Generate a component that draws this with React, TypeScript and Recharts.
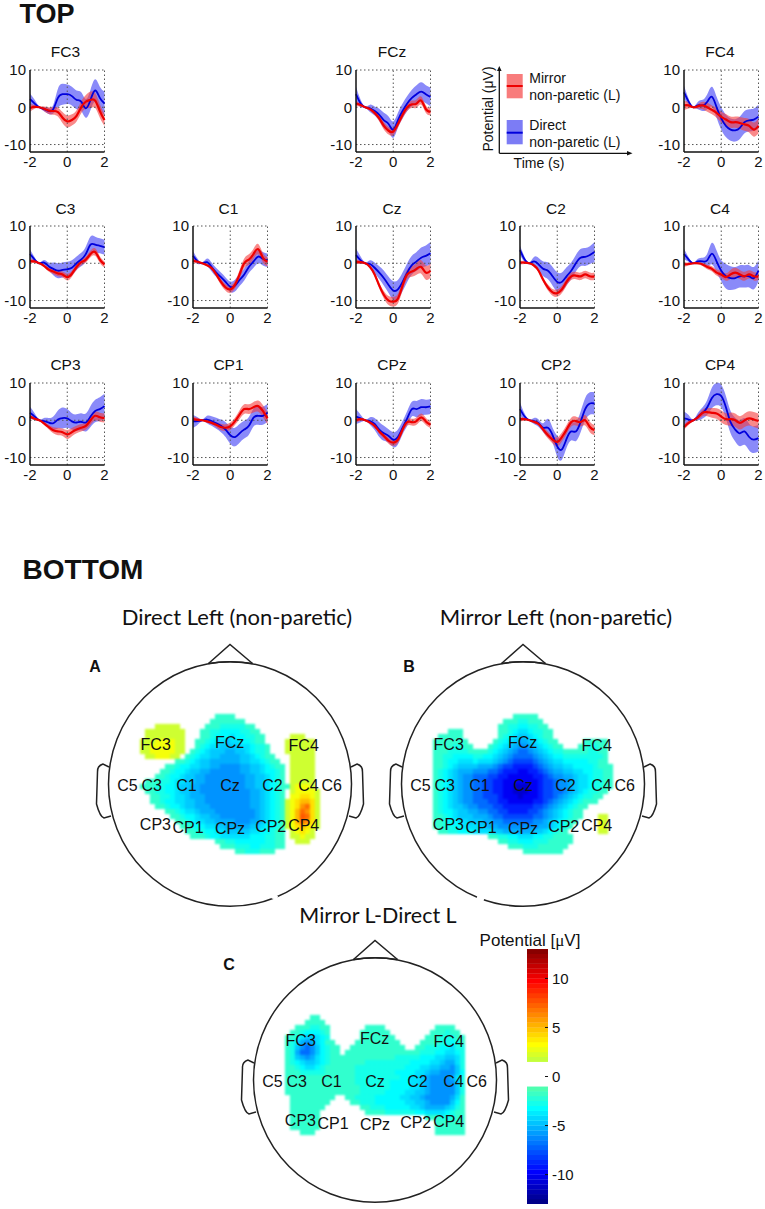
import { Area, ComposedChart, Line, ReferenceLine, Scatter, ScatterChart, XAxis, YAxis } from "recharts";

const SANS = "'Liberation Sans', Arial, sans-serif";
const HUMANIST = "Lato, 'Open Sans', sans-serif";

// seconds around movement onset
const times = [-2, -1.75, -1.5, -1.25, -1, -0.75, -0.5, -0.25, 0, 0.25, 0.5, 0.75, 1, 1.25, 1.5, 1.75, 2];

const fc3Direct = [2.2, 1, 0, -0.5, -1, -0.5, 2.5, 3.5, 3.5, 3, 2, 1.5, -0.3, 2, 4.5, 2.5, 1];
const fc3DirectErr = [1.5, 1, 0.2, 0.6, 0.8, 1.2, 2.5, 2.8, 2.6, 2.5, 2.5, 2.5, 2.5, 2.7, 3, 3, 3.2];
const fc3Mirror = [-0.2, 0.1, 0, -0.4, -0.9, -1, -1.3, -2.8, -3.8, -3.4, -2.3, 0, 1.5, 2, 1.8, -1, -3.4];
const fc3MirrorErr = [1, 0.5, 0.2, 0.6, 0.9, 1, 1.2, 1.5, 1.6, 1.5, 1.5, 1.6, 1.8, 2.2, 2, 1.8, 1.6];

const fczDirect = [3.5, 1, 0, -0.3, -1, -2, -3.5, -4.5, -6, -3.5, -1, 1, 2.5, 3.5, 4.2, 3.5, 2.8];
const fczDirectErr = [2, 1, 0.2, 1, 1.2, 1.6, 2, 2, 2.2, 2, 2, 2, 2.2, 2.4, 2.5, 2.4, 2.5];
const fczMirror = [1, 0.6, 0, -0.5, -1.5, -3, -5, -6.3, -6.5, -4.5, -2, 0, 0.8, 1, 1.8, -0.5, -1.2];
const fczMirrorErr = [0.7, 0.4, 0.2, 0.4, 0.5, 0.8, 1, 1, 1, 1, 1, 1, 1, 1.1, 1.1, 1, 1];

const fc4Direct = [4, 1.5, 0, 0.5, 0.5, 1.5, 2.8, 0, -3, -5, -6, -6.2, -5.5, -4, -3.5, -3.3, -2.5];
const fc4DirectErr = [1.8, 0.8, 0.2, 1, 1.5, 2, 2.7, 2.8, 3, 3, 3, 3, 3, 3, 3, 3, 3.2];
const fc4Mirror = [0.5, 0.5, 0, 0.3, 0.5, 0, -0.7, -1.5, -2.6, -3.3, -4, -4, -4.2, -4.6, -5, -6, -5];
const fc4MirrorErr = [1.2, 0.8, 0.2, 0.6, 1, 1.2, 1.2, 1.3, 1.4, 1.5, 1.5, 1.5, 1.6, 1.7, 1.8, 1.9, 2];

const c3Direct = [2.5, 1, 0, 0.2, -0.8, -1.5, -2, -1.8, -1.6, -1.2, 0, 1, 2.5, 5, 5, 4.7, 4.3];
const c3DirectErr = [1.2, 0.6, 0.2, 0.7, 1, 1.7, 2, 2, 2, 2, 1.8, 1.8, 2, 2.2, 2.1, 2, 2];
const c3Mirror = [0.6, 0.5, 0, -0.7, -1.7, -2.2, -2.7, -3, -3.7, -2.8, -1, 0.3, 1, 2.5, 3, 1, -0.3];
const c3MirrorErr = [0.6, 0.4, 0.2, 0.4, 0.5, 0.7, 0.8, 0.8, 0.9, 0.8, 0.8, 0.8, 0.8, 0.9, 1, 0.9, 0.8];

const c1Direct = [2, 0.5, 0, 0.3, -1, -2.5, -3.7, -5, -6.3, -6, -4.5, -3, -1, 0.5, 1.8, 1.2, 0.8];
const c1DirectErr = [1.2, 0.7, 0.2, 1, 1.2, 1.2, 1.2, 1.2, 1.4, 1.6, 1.6, 1.6, 1.6, 1.7, 1.8, 1.8, 1.8];
const c1Mirror = [0.7, 0.4, 0, -0.5, -1.3, -3, -5, -6.5, -7, -5.8, -3, 0, 1, 2.5, 3.8, 1.5, 0.4];
const c1MirrorErr = [0.7, 0.4, 0.2, 0.3, 0.4, 0.6, 0.8, 0.9, 1, 1, 1.2, 1.3, 1.4, 1.4, 1.4, 1.3, 1.2];

const czDirect = [2.2, 0.8, 0, -0.2, -1.2, -2.5, -4, -5.8, -7.3, -7, -5, -2.5, -0.5, 0.5, 1.5, 2, 2.7];
const czDirectErr = [1.7, 1, 0.2, 1, 1.4, 1.7, 2, 2.2, 2.5, 2.5, 2.5, 2.5, 2.5, 2.5, 2.7, 2.8, 3];
const czMirror = [0.4, 0.3, 0, -1, -3, -6, -8.5, -10, -10.3, -9.5, -6, -3, -2.2, -1.5, -1, -2.5, -2];
const czMirrorErr = [0.6, 0.4, 0.2, 0.3, 0.5, 0.8, 1, 1.2, 1.3, 1.3, 1.3, 1.3, 1.4, 1.6, 1.8, 1.9, 1.9];

const c2Direct = [3.5, 1, 0, 0.5, -0.3, -1.5, -2, -3.5, -5, -5, -3.5, -2, 0, 1.5, 1.7, 2.2, 3];
const c2DirectErr = [1.2, 0.7, 0.2, 1.2, 1.7, 2, 2.3, 2.5, 2.6, 2.5, 2.4, 2.2, 2.2, 2.3, 2.4, 2.4, 2.7];
const c2Mirror = [0.2, 0.2, 0, -0.6, -2, -4.5, -6.5, -7.8, -8, -7, -5, -3.5, -3.3, -3.5, -3, -3.5, -3.5];
const c2MirrorErr = [0.5, 0.4, 0.2, 0.3, 0.4, 0.6, 0.8, 0.9, 1, 1, 1, 1, 1, 1, 1, 1, 1];

const c4Direct = [2.5, 1, 0, 0.5, 0.5, 0.8, 2.6, 0.5, -2, -3.5, -4, -4, -3.5, -3.5, -3.5, -4, -2];
const c4DirectErr = [1.4, 0.6, 0.2, 0.7, 1, 1.8, 2.9, 2.9, 2.8, 3.3, 3.2, 3, 3, 3, 3, 3, 2.8];
const c4Mirror = [-0.3, -0.2, 0, 0, -0.3, -1, -1.5, -2.5, -3, -3.7, -3, -2.5, -3, -3.5, -3, -3.5, -3.5];
const c4MirrorErr = [0.6, 0.4, 0.2, 0.3, 0.4, 0.6, 0.7, 0.8, 0.9, 1, 1.2, 1.3, 1.2, 1.2, 1.1, 1.1, 1];

const cp3Direct = [2, 1, 0, -0.2, -0.6, -0.8, 0.2, 0.6, 0.5, -0.3, -0.6, -0.4, -0.6, 1, 2.5, 3, 3.8];
const cp3DirectErr = [1.6, 0.9, 0.2, 0.8, 1.2, 1.8, 2.4, 2.8, 2.5, 2.2, 2.2, 2.3, 2.4, 2.8, 3, 3.2, 3.3];
const cp3Mirror = [1, 0.4, 0, -0.8, -1.8, -2.7, -3, -3.2, -3.8, -3.2, -2.5, -2, -1.5, 0, 1.2, 0.8, 0.6];
const cp3MirrorErr = [0.5, 0.3, 0.2, 0.4, 0.6, 0.8, 1, 1, 1.2, 1.1, 1, 1, 1, 1.2, 1.2, 1.2, 1.2];

const cp1Direct = [-0.3, -0.2, 0, 0.2, -0.2, -0.8, -1.5, -2.5, -4, -4.5, -3.5, -2.5, -1.5, 0.7, 1.2, 1.2, 2];
const cp1DirectErr = [1.7, 1, 0.2, 1, 1.3, 1.5, 1.7, 2, 2.3, 2.5, 2.5, 2.4, 2.4, 2.4, 2.4, 2.4, 2.4];
const cp1Mirror = [0.3, 0.1, 0, -0.3, -0.7, -1.2, -1.8, -2, -1.6, -0.3, 1.5, 3, 3, 3.5, 3.8, 2.5, 0.5];
const cp1MirrorErr = [0.7, 0.5, 0.2, 0.3, 0.4, 0.7, 0.9, 0.9, 1, 1, 1.2, 1.3, 1.3, 1.4, 1.5, 1.6, 1.6];

const cpzDirect = [1, 0.5, 0, -0.2, -1, -2.5, -3.5, -4.2, -5.2, -4.5, -2, 0.5, 3, 3, 3.5, 3.5, 3.7];
const cpzDirectErr = [2, 1, 0.2, 1, 1.6, 2, 2, 1.8, 2, 2, 1.8, 2, 2, 2.2, 2.2, 2, 2];
const cpzMirror = [0, 0.3, 0, -0.6, -1.5, -3, -4.2, -5.5, -6, -5.2, -2.5, -0.5, -0.5, -0.2, 0.8, -0.3, -1.2];
const cpzMirrorErr = [0.6, 0.4, 0.2, 0.3, 0.4, 0.6, 0.7, 0.8, 0.9, 0.9, 0.9, 0.9, 0.9, 1, 1, 1, 0.9];

const cp2Direct = [3, 1, 0, -0.2, -0.8, -2, -2, -4, -7, -7.8, -5, -3, -3, -0.5, 3, 4.5, 4.5];
const cp2DirectErr = [1.8, 0.8, 0.2, 0.8, 1, 1.2, 2.4, 2, 2.8, 2.8, 2.4, 2.4, 2.6, 2.8, 3, 3, 3];
const cp2Mirror = [0.3, 0.3, 0, -0.4, -1, -2.5, -4, -5.2, -5.8, -4.5, -2.5, -0.5, -0.2, -0.5, 0, -1.8, -2.6];
const cp2MirrorErr = [0.6, 0.4, 0.2, 0.3, 0.4, 0.7, 0.9, 1, 1.2, 1.2, 1.2, 1.2, 1.2, 1.2, 1.4, 1.4, 1.4];

const cp4Direct = [0.5, 0.2, 0, 1, 2, 3.5, 6, 7, 6.5, 3.5, -0.5, -2.5, -3.5, -3, -4.5, -5.2, -4.8];
const cp4DirectErr = [1.8, 1.2, 0.2, 1, 1.5, 2, 2.8, 3, 3, 3, 3, 3.2, 3.5, 3.6, 3.6, 3.6, 3.6];
const cp4Mirror = [-1.8, -0.7, 0, 0.8, 2, 2.2, 2, 1.8, 1, 0.3, 0.3, 0, -0.7, 0, 0.5, 0.2, -0.2];
const cp4MirrorErr = [0.7, 0.6, 0.2, 0.6, 0.9, 1.1, 1.3, 1.4, 1.6, 1.6, 1.8, 1.8, 1.8, 1.8, 1.9, 2, 2];

const panels = [
  { name: "FC3", col: 0, row: 0, d: fc3Direct, de: fc3DirectErr, m: fc3Mirror, me: fc3MirrorErr },
  { name: "FCz", col: 2, row: 0, d: fczDirect, de: fczDirectErr, m: fczMirror, me: fczMirrorErr },
  { name: "FC4", col: 4, row: 0, d: fc4Direct, de: fc4DirectErr, m: fc4Mirror, me: fc4MirrorErr },
  { name: "C3", col: 0, row: 1, d: c3Direct, de: c3DirectErr, m: c3Mirror, me: c3MirrorErr },
  { name: "C1", col: 1, row: 1, d: c1Direct, de: c1DirectErr, m: c1Mirror, me: c1MirrorErr },
  { name: "Cz", col: 2, row: 1, d: czDirect, de: czDirectErr, m: czMirror, me: czMirrorErr },
  { name: "C2", col: 3, row: 1, d: c2Direct, de: c2DirectErr, m: c2Mirror, me: c2MirrorErr },
  { name: "C4", col: 4, row: 1, d: c4Direct, de: c4DirectErr, m: c4Mirror, me: c4MirrorErr },
  { name: "CP3", col: 0, row: 2, d: cp3Direct, de: cp3DirectErr, m: cp3Mirror, me: cp3MirrorErr },
  { name: "CP1", col: 1, row: 2, d: cp1Direct, de: cp1DirectErr, m: cp1Mirror, me: cp1MirrorErr },
  { name: "CPz", col: 2, row: 2, d: cpzDirect, de: cpzDirectErr, m: cpzMirror, me: cpzMirrorErr },
  { name: "CP2", col: 3, row: 2, d: cp2Direct, de: cp2DirectErr, m: cp2Mirror, me: cp2MirrorErr },
  { name: "CP4", col: 4, row: 2, d: cp4Direct, de: cp4DirectErr, m: cp4Mirror, me: cp4MirrorErr },
];

const colLefts = [29.5, 192.5, 356, 520, 684];
const rowTops = [69.5, 226, 382.7];

// potential per letter: lower case negative, upper case positive, "." is below threshold
const levelValues: Record<string, number> = {
  a: -2, b: -2.7, c: -3.3, d: -4, e: -4.6, f: -5.3, g: -6, h: -7, i: -8, j: -9, k: -10, l: -11,
  A: 2, B: 3, C: 4, D: 5, E: 6, F: 7, G: 7.5,
};

const mapDirect = [
  "...... ...... ...aaa a..... ...... ......",
  "...... ...... ..aaaa aaa... ...... ......",
  "...AAA AA.... .aaabb bbbaa. ...... ......",
  ".AAAAA AAA... aabbcc ccbbaa ...... ......",
  ".AAAAA AAA... aabccc dccbba a..... AAA...",
  "AAABBB BAA..a abcdde ddccba a....A AAAAA.",
  "AABBBB BAA..a bcddee eeddcb ba...A AAAAA.",
  "AABBBB BAA.ab cdeeef feedcb ba...A AAAAA.",
  ".AABBB AA.abc ddeeff ffeedc baa... AAAAA.",
  "...... .aabcd eeffff ffeedd cbaa.. AAAAA.",
  ".....a abccdd eeffgg ggffee dcbaa. AAAAA.",
  "....aa bccdee ffgggg ggffee dccba. AAAAA.",
  "...aab ccdeef fggggg gggffe edcba. AAAAA.",
  ".aaabb cddeef fggggg gggffe edcba. AAAAA.",
  "aaabbc cdeeff gggggg gggffe edcbaa ABBBA.",
  ".aabbc cdeeff gggggg ggggff edcba. ABBBBA",
  "..aabb cddeff fggggg ggggff edcba. BBCCBA",
  "..aabc cddeef fggggg ggggff edcbaA BCDDCA",
  "...aab ccdeef ffgggg ggggff edcbaA BCEFCA",
  ".....a abcdde fffggg gggggf edcbaA BDFECA",
  "...... aabccd eeffgg gggggf edcbaA BDGFCA",
  "...... .aabcd deefff fgggff edcbaA BDFECA",
  "...... ..aabc cddeef ffffee dccbaA BCDCBA",
  "...... ...aab bccdde eeeedd ccbaa. ABCBA.",
  "...... ....aa abccdd ddddcc cbbaa. AABAA.",
  "...... ...... ...aab bccccc cbbaa. .AAA..",
  "...... ...... ....aa abbbcc bbbaa. ......",
  "...... ...... ...... .aabbb aaa... ......",
];

const mapMirror = [
  "...... ...... ....aa aaa... ...... ......",
  "...... ...... ..aaab baaa.. ...... ......",
  "...... ...... .aabbc cbbaa. ...... ......",
  "...aaa ...... .aabcd dcbbaa ...... ......",
  ".aaaaa ...... .abcde edcbaa ...... ......",
  "aaaaaa a..... abcdef fedcba a..... aaaaa.",
  "aaaabb aa...a bcdefg gfedcb aa...a abbaa.",
  "aaabbb baaaab cdefgh hgfedc bbaaaa abbaa.",
  "aabbcc ccbbcc defghh hhgfed ccbbbb bbbba.",
  "aabccd ddcddd efghii iihgfe ddcccc cbbaa.",
  "aabcde eeefff ghiijj jjihgf eeddcc ccbaaa",
  "abcdef ffgggh hijjjk kjjihg ffeedd ccbbaa",
  "abcdef gghhhi ijjkkk kkjjih ggffed dcbbaa",
  "abcdef gghhii jjkkkk kkkjii hggfed dcbbaa",
  "abcdef gghhii jjkkll lkkjii hggfed dcbbaa",
  "abcdef gghhii jjkkll lkkjii hhgfed cbbaa.",
  "abcdef gghhii ijkkkl kkkjii hgfedc bbaa..",
  "abcdef gghhhi ijjkkk kkjjih gfedcb aaa...",
  "abcdee fgghhh iijjjj jjiihg fedcba a.....",
  "abccde effggh hiijjj jiihgf edcbaa ......",
  "aabcde eefffg hhiiii iihhgf edcbaa ...AA.",
  "aabccd deeeff gghhhh hhggfe dcbaa. ...BA.",
  "aabbcc dddeef fggggg gggffe dcba.. ...BA.",
  ".aabbc ccdddd eeffff ffeedc baa... ...AA.",
  "...... .....a abbccd ddccbb aaaa.. ......",
  "...... ...... .aabbc ccbbba aaaa.. ......",
  "...... ...... ...aaa bbbaaa aaa... ......",
  "...... ...... ...... aaaaaa aa.... ......",
];

const mapDifference = [
  "...... ...... ...... ...... ...... ......",
  ".....a a..... ...... ...... ...... ......",
  "....aa aa.... ...... ...... ...... ......",
  "..aaab baa... ....aa aa.... ...... aaaa..",
  ".aabcc cba... ...aaa aaa... .....a aabaa.",
  "aabdee dcb... ...aaa aaaa.. ....aa abbbaa",
  "abdfgf dcaa.. ..aaaa aaaaa. ...aaa abbcba",
  "abeghg ecbaa. .aaaaa aaaaaa ..aabb bccdbb",
  "abfhhg ecbaa. aaaaaa aaaaaa aaabbb ccddcb",
  "abefgf dcbaaa aaaaaa aaaabb bbbccc ddeedb",
  "abcdee dcbaaa aaaabb bbbbbb bccccd deffdb",
  "aabcdd cbaaaa aabbbb bbbbbb cccdde effgeb",
  "aaabbb bbaaaa aabbbb bbbbcc ccddef fgggec",
  "aaaaaa aaaaaa aabbbb bbbbbc cddefg gggfdb",
  "aaaaaa aaaaaa aabbbb bbbccc cddefg ggggeb",
  "aaaaaa aaaaaa aaabbb bbbccc cddefg ggggeb",
  "aaaaaa aaaaaa aaabbb bbcccc ddeefg ggggeb",
  ".aaaaa aaaa.. aabbbb cccccd deefgg gggfda",
  ".aaaaa aaa... .aabbb cccccc ddeefg gggeca",
  ".aaaaa aa.... ...aab bbcccc cddeff ffedba",
  ".aaaaa a..... ....aa aabbbb bbccdd ddcbaa",
  ".aaaaa a..... ...... ...... ....aa abbbaa",
  ".aaaaa a..... ...... ...... ...... aaaaaa",
  ".aaaaa a..... ...... ...... ...... aaaaaa",
  "...aaa ...... ...... ...... ...... aaaaaa",
];

const electrodeNames = ["FC3", "FCz", "FC4", "C5", "C3", "C1", "Cz", "C2", "C4", "C6", "CP3", "CP1", "CPz", "CP2", "CP4"];
const electrodeX = [-74.3, -0.3, 73.7, -102.6, -78.3, -43.6, 0, 42.4, 78.4, 101.7, -74.6, -42, 0, 40.7, 73.7];
const electrodeY = [-39.2, -41.8, -38.5, 1.5, 1.5, 1.5, 1.5, 1.5, 1.5, 1.5, 40.8, 43, 44, 42.5, 41.5];

const colorbarTicks = [-10, -5, 0, 5, 10];
const colorbarLevels = [
  -12.75, -12.25, -11.75, -11.25, -10.75, -10.25, -9.75, -9.25, -8.75, -8.25, -7.75, -7.25, -6.75, -6.25, -5.75, -5.25,
  -4.75, -4.25, -3.75, -3.25, -2.75, -2.25, -1.75, -1.25, -0.75, -0.25, 0.25, 0.75, 1.25, 1.75, 2.25, 2.75, 3.25, 3.75,
  4.25, 4.75, 5.25, 5.75, 6.25, 6.75, 7.25, 7.75, 8.25, 8.75, 9.25, 9.75, 10.25, 10.75, 11.25, 11.75, 12.25, 12.75,
];

function jet(value: number) {
  if (value > -1.2 && value < 1.4) return "#ffffff";
  const t = (value + 13) / 26;
  const clamp = (v: number) => Math.round(255 * Math.max(0, Math.min(1, v)));
  const r = clamp(Math.min(4 * t - 1.5, 4.5 - 4 * t));
  const g = clamp(Math.min(4 * t - 0.5, 3.5 - 4 * t));
  const b = clamp(Math.min(4 * t + 0.5, 2.5 - 4 * t));
  return `rgb(${r},${g},${b})`;
}

function parseMap(rows: string[]) {
  const cells: { x: number; y: number; value: number }[] = [];
  rows.forEach((line, r) => {
    line.replace(/ /g, "").split("").forEach((ch, c) => {
      if (ch !== ".") cells.push({ x: -87.5 + 5 * c, y: -67.5 + 5 * r, value: levelValues[ch] });
    });
  });
  return cells;
}

function Txt({ x, y, size = 15, font = SANS, weight = 400, children }: any) {
  return (
    <div
      style={{
        position: "absolute",
        left: x,
        top: y,
        transform: "translate(-50%,-50%)",
        fontFamily: font,
        fontSize: size,
        fontWeight: weight,
        lineHeight: 1,
        whiteSpace: "nowrap",
        color: "#111",
      }}
    >
      {children}
    </div>
  );
}

function ErpPanel({ panel }: { panel: (typeof panels)[number] }) {
  const data = times.map((t, i) => ({
    t,
    direct: panel.d[i],
    directBand: [panel.d[i] - panel.de[i], panel.d[i] + panel.de[i]],
    mirror: panel.m[i],
    mirrorBand: [panel.m[i] - panel.me[i], panel.m[i] + panel.me[i]],
  }));
  const left = colLefts[panel.col];
  const top = rowTops[panel.row];
  return (
    <>
      <Txt x={left + 36} y={top - 17.5} size={15.5}>
        {panel.name}
      </Txt>
      <div style={{ position: "absolute", left: left - 29, top: top - 12 }}>
        <ComposedChart width={124} height={119} data={data} margin={{ top: 12, right: 20.5, bottom: 0, left: 0 }}>
          <XAxis
            dataKey="t"
            type="number"
            domain={[-2, 2]}
            ticks={[-2, 0, 2]}
            interval={0}
            height={25}
            tickLine={false}
            tickSize={2}
            axisLine={{ stroke: "#111", strokeWidth: 1.5 }}
            tick={{ fill: "#111", fontSize: 15, fontFamily: SANS }}
          />
          <YAxis
            type="number"
            domain={[-12, 10]}
            ticks={[-10, 0, 10]}
            interval={0}
            width={29}
            tickLine={false}
            tickSize={2}
            axisLine={{ stroke: "#111", strokeWidth: 1.5 }}
            tick={{ fill: "#111", fontSize: 15, fontFamily: SANS }}
          />
          <ReferenceLine y={10} stroke="#555" strokeDasharray="1.5 2.5" />
          <ReferenceLine y={0} stroke="#555" strokeDasharray="1.5 2.5" />
          <ReferenceLine y={-10} stroke="#555" strokeDasharray="1.5 2.5" />
          <ReferenceLine x={0} stroke="#555" strokeDasharray="1.5 2.5" />
          <ReferenceLine x={2} stroke="#555" strokeDasharray="1.5 2.5" />
          <Area dataKey="directBand" type="natural" stroke="none" fill="#3c3cf5" fillOpacity={0.6} isAnimationActive={false} />
          <Area dataKey="mirrorBand" type="natural" stroke="none" fill="#f53c3c" fillOpacity={0.6} isAnimationActive={false} />
          <Line dataKey="direct" type="natural" stroke="#0000dc" strokeWidth={1.8} dot={false} isAnimationActive={false} />
          <Line dataKey="mirror" type="natural" stroke="#ee0000" strokeWidth={2.2} dot={false} isAnimationActive={false} />
        </ComposedChart>
      </div>
    </>
  );
}

function HeatCell(props: any) {
  return (
    <rect
      x={props.cx - 2.6}
      y={props.cy - 2.6}
      width={5.2}
      height={5.2}
      fill={jet(props.payload.value)}
    />
  );
}

function ElectrodeLabel(props: any) {
  return (
    <text x={props.cx} y={props.cy} textAnchor="middle" dominantBaseline="central" fontFamily={SANS} fontSize={16} fill="#111">
      {props.payload.name}
    </text>
  );
}

function HeadMap({ cx, cy, rows, gap }: { cx: number; cy: number; rows: string[]; gap?: number[] }) {
  const electrodes = electrodeNames.map((name, i) => ({ name, x: electrodeX[i], y: electrodeY[i] }));
  return (
    <div style={{ position: "absolute", left: cx - 150, top: cy - 150, width: 300, height: 300 }}>
      <svg width={300} height={300} style={{ position: "absolute", left: 0, top: 0 }} fill="none" stroke="#222" strokeWidth={1.5}>
        <ellipse cx={150} cy={150} rx={121.5} ry={122.3} />
        <path d="M128.5 29.5 L150 10.5 L172.5 29.5" />
        <path d="M128.5 29.5 Q150 26 172.5 29.5" />
        <path d="M29 133 L23 130 Q17 132 17.5 138 L16.5 170 Q20 183 24 184 L31 182" />
        <path d="M271 133 L277 130 Q283 132 282.5 138 L283.5 170 Q280 183 276 184 L269 182" />
        {gap ? <line x1={gap[0]} y1={gap[1]} x2={gap[2]} y2={gap[3]} stroke="#fff" strokeWidth={4} /> : null}
      </svg>
      <div style={{ position: "absolute", left: 0, top: 0, filter: "blur(0.8px)" }}>
        <ScatterChart width={300} height={300} margin={{ top: 0, right: 0, bottom: 0, left: 0 }}>
          <XAxis dataKey="x" type="number" domain={[-150, 150]} hide />
          <YAxis dataKey="y" type="number" domain={[-150, 150]} reversed hide />
          <Scatter data={parseMap(rows)} shape={HeatCell} isAnimationActive={false} />
        </ScatterChart>
      </div>
      <div style={{ position: "absolute", left: 0, top: 0 }}>
        <ScatterChart width={300} height={300} margin={{ top: 0, right: 0, bottom: 0, left: 0 }}>
          <XAxis dataKey="x" type="number" domain={[-150, 150]} hide />
          <YAxis dataKey="y" type="number" domain={[-150, 150]} reversed hide />
          <Scatter data={electrodes} shape={ElectrodeLabel} isAnimationActive={false} />
        </ScatterChart>
      </div>
    </div>
  );
}

function ColorbarCell(props: any) {
  return <rect x={props.cx - 10.5} y={props.cy - 2.6} width={21} height={5.2} fill={jet(props.payload.y)} />;
}

function ColorbarTick(props: any) {
  return <line x1={props.cx - 3} x2={props.cx} y1={props.cy} y2={props.cy} stroke="#111" strokeWidth={1} />;
}

function Colorbar() {
  const levels = colorbarLevels.map((y) => ({ x: 0.5, y }));
  const marks = colorbarTicks.map((y) => ({ x: 1, y }));
  return (
    <div style={{ position: "absolute", left: 527, top: 949 }}>
      <ScatterChart width={61} height={255} margin={{ top: 0, right: 0, bottom: 0, left: 0 }}>
        <XAxis dataKey="x" type="number" domain={[0, 1]} hide />
        <YAxis
          dataKey="y"
          type="number"
          orientation="right"
          domain={[-13, 13]}
          ticks={colorbarTicks}
          interval={0}
          width={40}
          axisLine={false}
          tickLine={false}
          tickSize={2}
          tick={{ fill: "#111", fontSize: 15, fontFamily: SANS }}
        />
        <Scatter data={levels} shape={ColorbarCell} isAnimationActive={false} />
        <Scatter data={marks} shape={ColorbarTick} isAnimationActive={false} />
      </ScatterChart>
    </div>
  );
}

function LegendKey() {
  return (
    <>
      <svg width={765} height={200} style={{ position: "absolute", left: 0, top: 0 }}>
        <rect x={506.7} y={74} width={16} height={24.3} fill="#f87c7c" />
        <line x1={506.7} x2={522.7} y1={86} y2={86} stroke="#ee0000" strokeWidth={2} />
        <rect x={506.7} y={120} width={16} height={24.3} fill="#7c7cf5" />
        <line x1={506.7} x2={522.7} y1={132.7} y2={132.7} stroke="#0000dc" strokeWidth={2} />
        <line x1={499.3} x2={499.3} y1={153.3} y2={69} stroke="#111" strokeWidth={1.3} />
        <path d="M499.3 66 L497 71 L501.6 71 Z" fill="#111" />
        <line x1={499.3} x2={629} y1={153.3} y2={153.3} stroke="#111" strokeWidth={1.3} />
        <path d="M632.5 153.3 L627 151 L627 155.6 Z" fill="#111" />
        <text x={488} y={109} transform="rotate(-90 488 109)" textAnchor="middle" dominantBaseline="central" fontFamily={SANS} fontSize={14} fill="#111">
          Potential (μV)
        </text>
      </svg>
      <div style={{ position: "absolute", left: 529.3, top: 69.5, fontFamily: SANS, fontSize: 14, color: "#111" }}>Mirror</div>
      <div style={{ position: "absolute", left: 529.3, top: 87, fontFamily: SANS, fontSize: 14, color: "#111" }}>non-paretic (L)</div>
      <div style={{ position: "absolute", left: 529.3, top: 117, fontFamily: SANS, fontSize: 14, color: "#111" }}>Direct</div>
      <div style={{ position: "absolute", left: 529.3, top: 134.3, fontFamily: SANS, fontSize: 14, color: "#111" }}>non-paretic (L)</div>
      <Txt x={539} y={163} size={14}>
        Time (s)
      </Txt>
    </>
  );
}

export default function App() {
  return (
    <div style={{ position: "absolute", left: 0, top: 0, width: 765, height: 1209, background: "#fff", overflow: "hidden" }}>
      <Txt x={47} y={14} size={27} weight={700}>
        TOP
      </Txt>
      <Txt x={83} y={570} size={28} weight={700}>
        BOTTOM
      </Txt>
      {panels.map((panel) => (
        <ErpPanel key={panel.name} panel={panel} />
      ))}
      <LegendKey />

      <Txt x={237} y={617} size={22} font={HUMANIST}>
        Direct Left (non-paretic)
      </Txt>
      <Txt x={556} y={617} size={22} font={HUMANIST}>
        Mirror Left (non-paretic)
      </Txt>
      <Txt x={378} y={916} size={21.5} font={HUMANIST}>
        Mirror L-Direct L
      </Txt>
      <Txt x={95} y={667} size={16} weight={700}>
        A
      </Txt>
      <Txt x={409} y={667} size={16} weight={700}>
        B
      </Txt>
      <Txt x={229} y={965} size={16} weight={700}>
        C
      </Txt>

      <HeadMap cx={230.3} cy={783.5} rows={mapDirect} gap={[192, 262.5, 197.5, 263.9]} />
      <HeadMap cx={523.3} cy={783.5} rows={mapMirror} gap={[104, 263, 111, 265.5]} />
      <HeadMap cx={375} cy={1079.5} rows={mapDifference} />

      <Colorbar />
      <Txt x={530} y={940} size={17}>
        Potential [<span style={{ fontFamily: "'Liberation Serif', serif" }}>μ</span>V]
      </Txt>
    </div>
  );
}
